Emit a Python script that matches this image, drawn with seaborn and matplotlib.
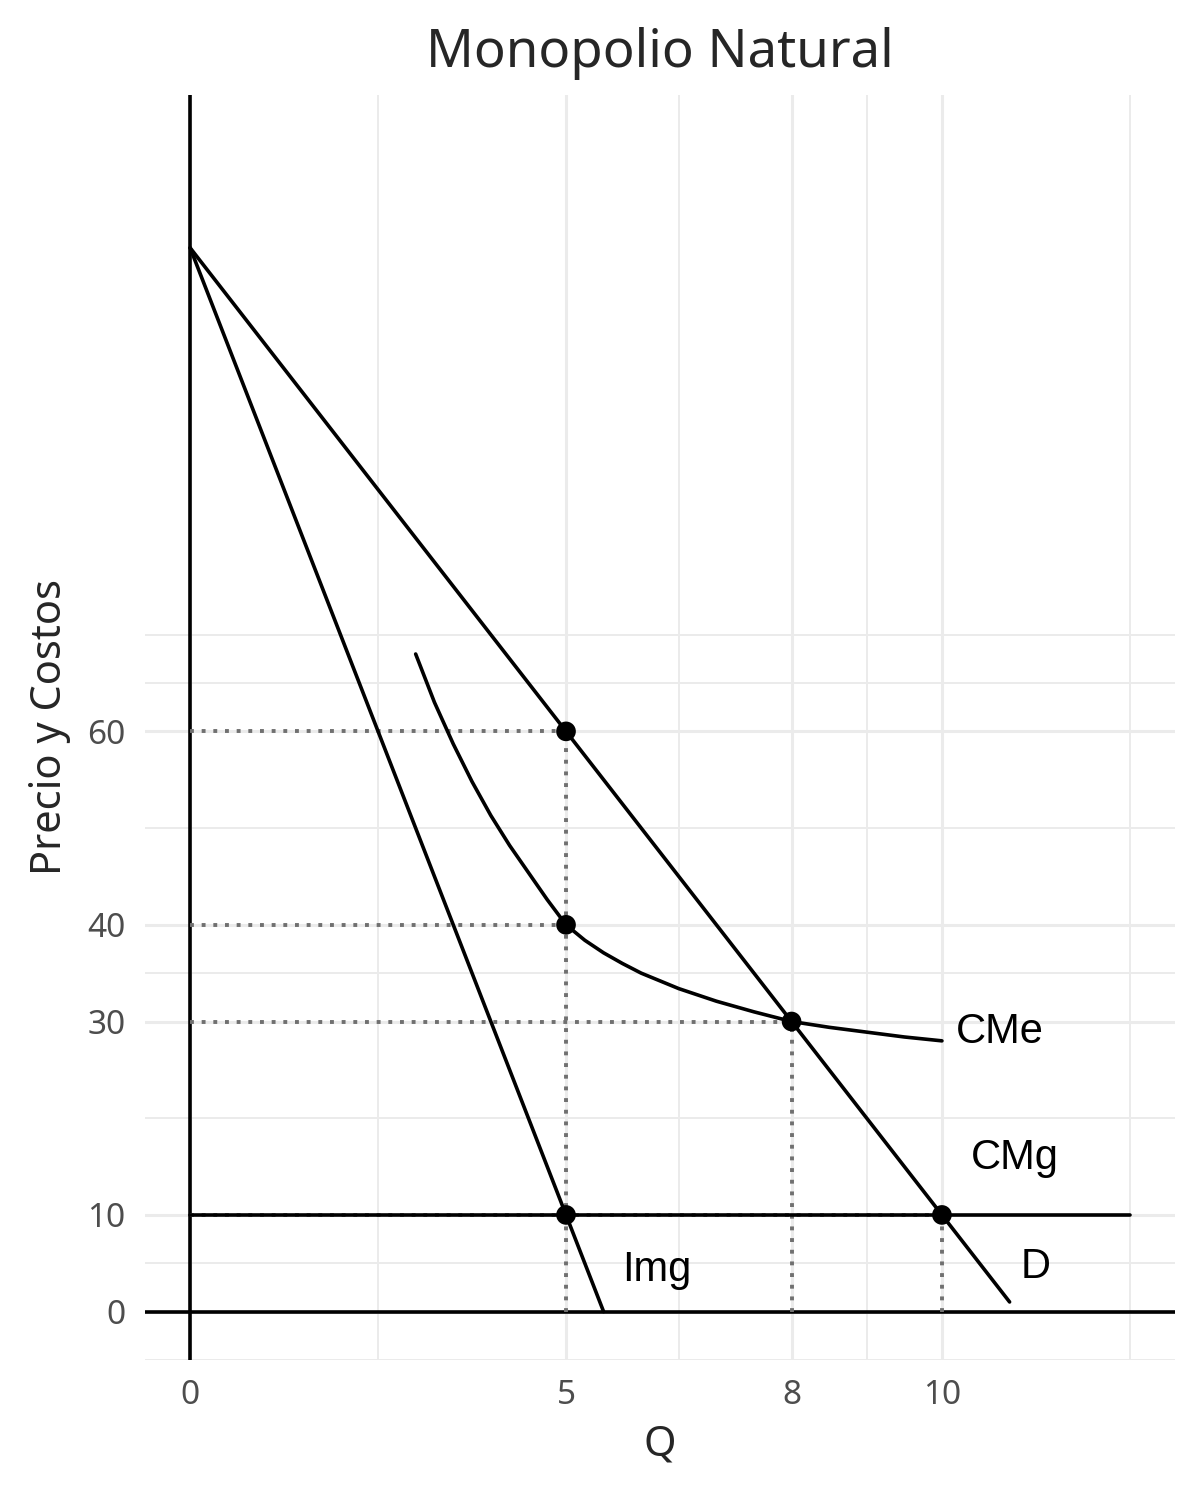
import numpy as np
import pandas as pd
import matplotlib.pyplot as plt
import seaborn as sns

# data
demand_q = [0, 10.9]
demand_p = [110, 1]
img_q = [0, 5.5]
img_p = [110, 0]
cme_q = [3, 3.25, 3.5, 3.75, 4, 4.25, 4.5, 4.75, 5, 5.25, 5.5, 5.75, 6,
         6.5, 7, 7.5, 8, 8.5, 9, 9.5, 10]
cme_p = [68, 63, 58.7, 54.8, 51.3, 48.2, 45.4, 42.6, 40, 38.4, 37.1, 36.0, 35.0,
         33.4, 32.1, 31.0, 30, 29.4, 28.9, 28.4, 28]
cmg_q = [0, 12.5]
cmg_p = [10, 10]
pts_q = [5, 5, 8, 10, 5]
pts_p = [60, 40, 30, 10, 10]
x_ticks = [0, 5, 8, 10]
y_ticks = [0, 10, 30, 40, 60]
x_minor = [2.5, 6.5, 9, 12.5]
y_minor = [-5, 5, 20, 35, 50, 65, 70]

sns.set_style("white")
plt.rcParams['font.family'] = ['Noto Sans', 'DejaVu Sans']

fig = plt.figure(figsize=(12, 15), dpi=100)
ax = fig.add_axes([145 / 1200, 140 / 1500, 1030 / 1200, 1265 / 1500])
ax.set_xlim(-0.6, 13.1)
ax.set_ylim(-5, 125.8)

# grid
for x in x_ticks + x_minor:
    ax.axvline(x, color="#ebebeb", lw=2.2 if x in x_ticks else 1.4, zorder=0)
for y in y_ticks + y_minor:
    ax.axhline(y, color="#ebebeb", lw=2.2 if y in y_ticks else 1.4, zorder=0)

ax.axvline(0, color="black", lw=2.6, zorder=1)
ax.axhline(0, color="black", lw=2.6, zorder=1)

# guides
dot = dict(color="#707070", lw=2.8, ls=(0, (1, 2)), zorder=2)
for q, p in [(5, 60), (5, 40), (8, 30), (10, 10)]:
    ax.plot([0, q], [p, p], **dot)
for q, p in [(5, 60), (8, 30), (10, 10)]:
    ax.plot([q, q], [0, p], **dot)

lw = 2.6
sns.lineplot(x=demand_q, y=demand_p, ax=ax, color="black", lw=lw, zorder=3)
sns.lineplot(x=img_q, y=img_p, ax=ax, color="black", lw=lw, zorder=3)
sns.lineplot(x=cme_q, y=cme_p, ax=ax, color="black", lw=lw, zorder=3, sort=False)
sns.lineplot(x=cmg_q, y=cmg_p, ax=ax, color="black", lw=lw, zorder=3)
sns.scatterplot(x=pts_q, y=pts_p, ax=ax, color="black", s=200, edgecolor="none", zorder=4)

lab = dict(fontsize=30, family=["Liberation Sans", "DejaVu Sans"], color="black")
ax.text(10.18, 28.9, "CMe", va="center", **lab)
ax.text(10.38, 15.9, "CMg", va="center", **lab)
ax.text(11.05, 4.6, "D", va="center", **lab)
ax.text(5.75, 4.3, "Img", va="center", **lab)

ax.set_xticks(x_ticks)
ax.set_yticks(y_ticks)
ax.tick_params(labelsize=24, labelcolor="#4d4d4d", length=0, pad=14)
ax.set_xlabel("Q", fontsize=30, labelpad=8)
ax.set_ylabel("Precio y Costos", fontsize=30, labelpad=12)
ax.set_title("Monopolio Natural", fontsize=38, pad=20)
sns.despine(ax=ax, left=True, bottom=True)

fig.savefig("out.png", dpi=100)
